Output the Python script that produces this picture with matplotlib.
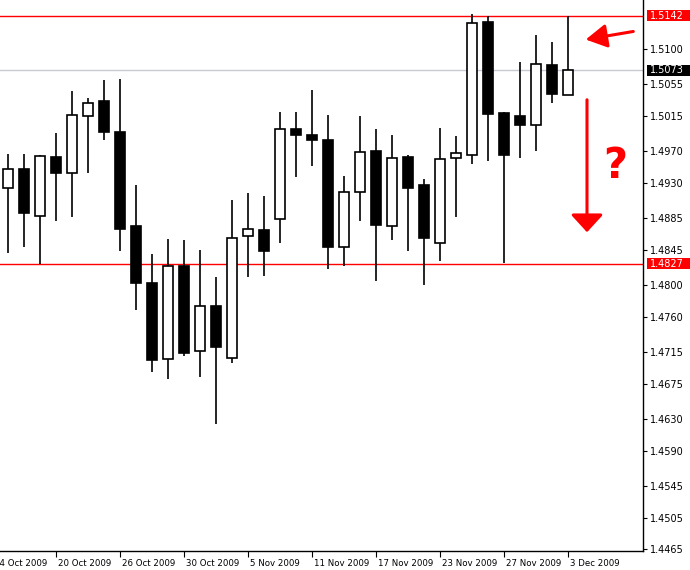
import matplotlib
matplotlib.use("Agg")
import matplotlib.pyplot as plt
import matplotlib.transforms as mtransforms
from matplotlib.patches import Rectangle

# ---------------- data ----------------
dates = ["15 Oct", "16 Oct", "19 Oct", "20 Oct", "21 Oct", "22 Oct", "23 Oct", "26 Oct",
         "27 Oct", "28 Oct", "29 Oct", "30 Oct", "2 Nov", "3 Nov", "4 Nov", "5 Nov",
         "6 Nov", "9 Nov", "10 Nov", "11 Nov", "12 Nov", "13 Nov", "16 Nov", "17 Nov",
         "18 Nov", "19 Nov", "20 Nov", "23 Nov", "24 Nov", "25 Nov", "26 Nov", "27 Nov",
         "30 Nov", "1 Dec", "2 Dec", "3 Dec"]
opens = [1.4923, 1.4948, 1.4888, 1.4963, 1.4943, 1.5015, 1.5034, 1.4995,
         1.4875, 1.4803, 1.4706, 1.4824, 1.4716, 1.4774, 1.4708, 1.4862,
         1.4870, 1.4884, 1.4998, 1.4991, 1.4985, 1.4848, 1.4918, 1.4970,
         1.4875, 1.4963, 1.4927, 1.4854, 1.4961, 1.4966, 1.5134, 1.5019,
         1.5015, 1.5004, 1.5080, 1.5042]
highs = [1.4967, 1.4967, 1.4966, 1.4993, 1.5047, 1.5038, 1.5061, 1.5062,
         1.4927, 1.4840, 1.4859, 1.4857, 1.4845, 1.4810, 1.4908, 1.4917,
         1.4913, 1.5020, 1.5020, 1.5048, 1.5016, 1.4939, 1.5015, 1.4998,
         1.4991, 1.4965, 1.4935, 1.5000, 1.4989, 1.5144, 1.5142, 1.5020,
         1.5083, 1.5118, 1.5109, 1.5142]
lows = [1.4841, 1.4848, 1.4827, 1.4882, 1.4887, 1.4943, 1.4985, 1.4843,
        1.4769, 1.4690, 1.4681, 1.4710, 1.4683, 1.4624, 1.4701, 1.4810,
        1.4812, 1.4853, 1.4937, 1.4952, 1.4820, 1.4824, 1.4881, 1.4805,
        1.4858, 1.4843, 1.4800, 1.4831, 1.4887, 1.4954, 1.4958, 1.4828,
        1.4962, 1.4971, 1.5032, 1.5042]
closes = [1.4948, 1.4892, 1.4964, 1.4942, 1.5016, 1.5032, 1.4995, 1.4872,
          1.4803, 1.4705, 1.4825, 1.4714, 1.4774, 1.4722, 1.4860, 1.4871,
          1.4844, 1.4999, 1.4991, 1.4985, 1.4848, 1.4919, 1.4969, 1.4876,
          1.4962, 1.4924, 1.4860, 1.4960, 1.4968, 1.5133, 1.5018, 1.4966,
          1.5004, 1.5081, 1.5043, 1.5073]

x_tick_index = [-1, 3, 7, 11, 15, 19, 23, 27, 31, 35]
x_tick_labels = ["14 Oct 2009", "20 Oct 2009", "26 Oct 2009", "30 Oct 2009", "5 Nov 2009",
                 "11 Nov 2009", "17 Nov 2009", "23 Nov 2009", "27 Nov 2009", "3 Dec 2009"]
y_ticks = [1.5100, 1.5055, 1.5015, 1.4970, 1.4930, 1.4885, 1.4845, 1.4800,
           1.4760, 1.4715, 1.4675, 1.4630, 1.4590, 1.4545, 1.4505, 1.4465]
resistance = 1.5142
support = 1.4827
last_price = 1.5073

# ---------------- figure ----------------
fig = plt.figure(figsize=(6.9, 5.7), dpi=100)
ax = fig.add_axes([0.0, 19 / 570, 643 / 690, 551 / 570])

xs = list(range(len(opens)))

# horizontal lines
ax.axhline(last_price, color="#c8cad2", lw=1, zorder=1)
ax.axhline(resistance, color="red", lw=1, zorder=1)
ax.axhline(support, color="red", lw=1, zorder=1)

# candles
ax.vlines(xs, lows, highs, color="black", lw=1.2, zorder=2)
bottoms = [min(o, c) for o, c in zip(opens, closes)]
heights = [abs(c - o) for o, c in zip(opens, closes)]
colors = ["white" if c >= o else "black" for o, c in zip(opens, closes)]
ax.bar(xs, heights, bottom=bottoms, width=0.62, color=colors,
       edgecolor="black", linewidth=1.2, zorder=3)

# axes styling
for s in ["left", "top"]:
    ax.spines[s].set_visible(False)
ax.spines["right"].set_linewidth(1.0)
ax.spines["bottom"].set_linewidth(1.0)
ax.yaxis.tick_right()
ax.set_yticks(y_ticks)
ax.set_yticklabels([f"{v:.4f}" for v in y_ticks])
ax.tick_params(axis="y", direction="out", length=3, width=0.8, pad=2, labelsize=7)
ax.set_xticks(x_tick_index)
ax.set_xticklabels([])
ax.tick_params(axis="x", direction="out", length=4, width=0.8)

ax.set_xlim(-0.5, 39.69)
ax.set_ylim(1.44625, 1.51622)

# x labels (left aligned right of the tick)
for xi, lab in zip(x_tick_index, x_tick_labels):
    ax.annotate(lab, xy=(xi, 0), xycoords=("data", "axes fraction"),
                xytext=(1.5, -9), textcoords="offset points", ha="left", va="center",
                fontsize=6.2, clip_on=False, annotation_clip=False)

# highlighted price labels on the right
blend = mtransforms.blended_transform_factory(fig.transFigure, ax.transData)
for val, bg in [(resistance, "red"), (last_price, "black"), (support, "red")]:
    h = 0.0014
    rect = Rectangle((647 / 690, val - h / 2), 43 / 690, h, transform=blend,
                     facecolor=bg, edgecolor="none", clip_on=False, zorder=5)
    fig.add_artist(rect)
    fig.text(650 / 690, val, f"{val:.4f}", transform=blend, color="white",
             fontsize=7, ha="left", va="center", zorder=6)

# annotations
ax.annotate("", xy=(583 / 643, 1 - 40 / 551), xytext=(636 / 643, 1 - 31 / 551),
            xycoords="axes fraction", textcoords="axes fraction",
            arrowprops=dict(arrowstyle="-|>,head_length=0.8,head_width=0.45",
                            color="red", lw=2.2, mutation_scale=16))
ax.annotate("", xy=(587 / 643, 1 - 235 / 551), xytext=(587 / 643, 1 - 97 / 551),
            xycoords="axes fraction", textcoords="axes fraction",
            arrowprops=dict(arrowstyle="-|>,head_length=0.6,head_width=0.55",
                            color="red", lw=2.2, mutation_scale=18))
ax.text(615 / 643, 1 - 166 / 551, "?", transform=ax.transAxes, color="red",
        fontsize=30, fontweight="bold", ha="center", va="center")

fig.savefig("out.png", dpi=100)
